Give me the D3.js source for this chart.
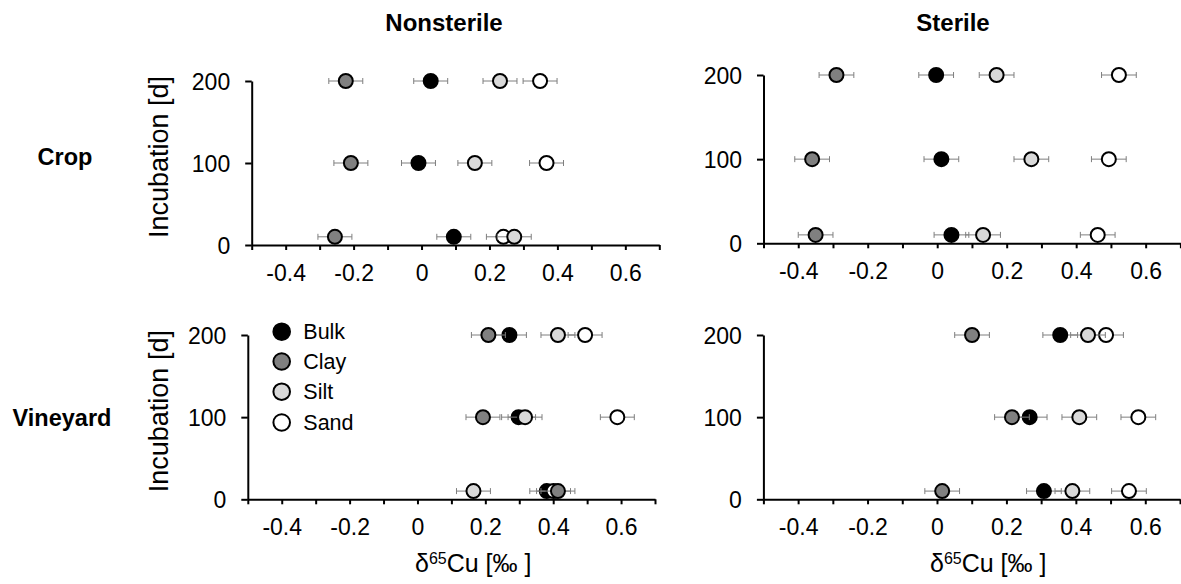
<!DOCTYPE html>
<html>
<head>
<meta charset="utf-8">
<script src="https://cdn.jsdelivr.net/npm/d3@7"></script>
<style>
  html, body { margin: 0; padding: 0; background: #ffffff; }
  svg { display: block; font-family: "Liberation Sans", Arial, sans-serif; }
</style>
</head>
<body>
<svg id="chart" width="1181" height="584"></svg>
<script>
// ---------- data ----------
const fractions = ["Bulk", "Clay", "Silt", "Sand"];
const incubationDays = [10, 100, 200];          // plotted row positions (day 0 row sits at ~10)
const yTickValues = [0, 100, 200];
const xTickValues = [-0.5, -0.4, -0.3, -0.2, -0.1, 0, 0.1, 0.2, 0.3, 0.4, 0.5, 0.6, 0.7];
const xTickLabels = ["", "-0.4", "", "-0.2", "", "0", "", "0.2", "", "0.4", "", "0.6", ""];
const columnTitles = ["Nonsterile", "Sterile"];
const rowTitles = ["Crop", "Vineyard"];

// Crop – Nonsterile  (values for days 0, 100, 200)
const cropNonsterileBulk = [0.095, -0.009, 0.027];
const cropNonsterileClay = [-0.255, -0.208, -0.223];
const cropNonsterileSilt = [0.273, 0.157, 0.231];
const cropNonsterileSand = [0.241, 0.368, 0.349];
// Crop – Sterile
const cropSterileBulk = [0.041, 0.012, -0.003];
const cropSterileClay = [-0.350, -0.360, -0.290];
const cropSterileSilt = [0.132, 0.271, 0.171];
const cropSterileSand = [0.462, 0.494, 0.523];
// Vineyard – Nonsterile
const vineNonsterileBulk = [0.381, 0.298, 0.271];
const vineNonsterileClay = [0.414, 0.193, 0.209];
const vineNonsterileSilt = [0.165, 0.317, 0.414];
const vineNonsterileSand = [0.401, 0.589, 0.494];
// Vineyard – Sterile
const vineSterileBulk = [0.308, 0.267, 0.355];
const vineSterileClay = [0.015, 0.216, 0.101];
const vineSterileSilt = [0.390, 0.410, 0.435];
const vineSterileSand = [0.553, 0.580, 0.487];
// error (± δ65Cu) – same for every point as read
const errorValues = [0.05, 0.05, 0.05];

// ---------- build table ----------
const panelSeries = [
  { Bulk: cropNonsterileBulk, Clay: cropNonsterileClay, Silt: cropNonsterileSilt, Sand: cropNonsterileSand },
  { Bulk: cropSterileBulk, Clay: cropSterileClay, Silt: cropSterileSilt, Sand: cropSterileSand },
  { Bulk: vineNonsterileBulk, Clay: vineNonsterileClay, Silt: vineNonsterileSilt, Sand: vineNonsterileSand },
  { Bulk: vineSterileBulk, Clay: vineSterileClay, Silt: vineSterileSilt, Sand: vineSterileSand }
];

// ---------- layout ----------
const layout = [
  { x0: 251.7, x1: 659.3, yTop: 81,  yBot: 245,   ytitle: true,  legend: false },
  { x0: 763.5, x1: 1180.4, yTop: 75, yBot: 243.3, ytitle: false, legend: false },
  { x0: 247.8, x1: 655,   yTop: 335, yBot: 499.3, ytitle: true,  legend: true },
  { x0: 763.4, x1: 1180,  yTop: 335, yBot: 499.3, ytitle: false, legend: false }
];
const fill = { Bulk: "#000000", Clay: "#808080", Silt: "#d9d9d9", Sand: "#ffffff" };
const drawOrder = ["Bulk", "Sand", "Silt", "Clay"];
const FONT = '"Liberation Sans", Arial, sans-serif';

const svg = d3.select("#chart");

layout.forEach((L, i) => {
  const x = d3.scaleLinear().domain([-0.5, 0.7]).range([L.x0, L.x1]);
  const y = d3.scaleLinear().domain([0, 200]).range([L.yBot, L.yTop]);
  const g = svg.append("g");

  // x axis
  const xa = g.append("g").attr("transform", `translate(0,${L.yBot})`)
    .call(d3.axisBottom(x).tickValues(xTickValues)
      .tickFormat((d, k) => xTickLabels[k]).tickSize(5).tickSizeOuter(0));
  xa.select(".domain").attr("stroke", "#000").attr("stroke-width", 2);
  xa.selectAll(".tick line").attr("stroke", "#000").attr("stroke-width", 2);
  xa.selectAll(".tick text").attr("y", 35.5).attr("dy", 0)
    .attr("font-size", 23).attr("font-family", FONT).attr("fill", "#000");

  // y axis
  const ya = g.append("g").attr("transform", `translate(${L.x0},0)`)
    .call(d3.axisLeft(y).tickValues(yTickValues).tickSize(6.5).tickSizeOuter(0));
  ya.select(".domain").attr("stroke", "#000").attr("stroke-width", 2);
  ya.selectAll(".tick line").attr("stroke", "#000").attr("stroke-width", 2);
  ya.selectAll(".tick text").attr("x", -21.5).attr("dy", "0.35em")
    .attr("font-size", 23).attr("font-family", FONT).attr("fill", "#000");

  if (L.ytitle) {
    g.append("text")
      .attr("transform", `translate(167.5,${(L.yTop + L.yBot) / 2 - 6}) rotate(-90)`)
      .attr("text-anchor", "middle").attr("font-size", 27).attr("font-family", FONT)
      .text("Incubation [d]");
  }

  // points + error bars
  const S = panelSeries[i];
  drawOrder.forEach(f => {
    const vals = S[f];
    vals.forEach((v, k) => {
      const cy = y(incubationDays[k]);
      const e = errorValues[k];
      const eg = g.append("g").attr("stroke", "#7f7f7f").attr("stroke-width", 1);
      eg.append("line").attr("x1", x(v - e)).attr("x2", x(v + e)).attr("y1", cy).attr("y2", cy);
      eg.append("line").attr("x1", x(v - e)).attr("x2", x(v - e)).attr("y1", cy - 3).attr("y2", cy + 3);
      eg.append("line").attr("x1", x(v + e)).attr("x2", x(v + e)).attr("y1", cy - 3).attr("y2", cy + 3);
      g.append("circle").attr("cx", x(v)).attr("cy", cy).attr("r", 7)
        .attr("fill", fill[f]).attr("stroke", "#000").attr("stroke-width", 2);
    });
  });

  if (L.legend) {
    const lg = g.append("g");
    const ly = [331.7, 361.5, 391.7, 422.5];
    fractions.forEach((f, k) => {
      lg.append("circle").attr("cx", 281.7).attr("cy", ly[k]).attr("r", 8.3)
        .attr("fill", fill[f]).attr("stroke", "#000").attr("stroke-width", 2);
      lg.append("text").attr("x", 303.3).attr("y", ly[k]).attr("dy", "0.36em")
        .attr("font-size", 21.5).attr("font-family", FONT).text(f);
    });
  }
});

// column titles
svg.append("text").attr("x", 444).attr("y", 30.7).attr("text-anchor", "middle")
  .attr("font-size", 24).attr("font-weight", "bold").attr("font-family", FONT).text(columnTitles[0]);
svg.append("text").attr("x", 953).attr("y", 30.7).attr("text-anchor", "middle")
  .attr("font-size", 24).attr("font-weight", "bold").attr("font-family", FONT).text(columnTitles[1]);

// row titles
svg.append("text").attr("x", 65).attr("y", 165).attr("text-anchor", "middle")
  .attr("font-size", 23.5).attr("font-weight", "bold").attr("font-family", FONT).text(rowTitles[0]);
svg.append("text").attr("x", 62).attr("y", 425.7).attr("text-anchor", "middle")
  .attr("font-size", 23.5).attr("font-weight", "bold").attr("font-family", FONT).text(rowTitles[1]);

// x axis titles
[415, 930].forEach(xs => {
  const t = svg.append("text").attr("x", xs).attr("y", 572)
    .attr("font-size", 25).attr("font-family", FONT);
  t.append("tspan").text("δ");
  t.append("tspan").attr("font-size", 16).attr("dy", -8.5).text("65");
  t.append("tspan").attr("dy", 8.5).text("Cu [‰ ]");
});
</script>
</body>
</html>
